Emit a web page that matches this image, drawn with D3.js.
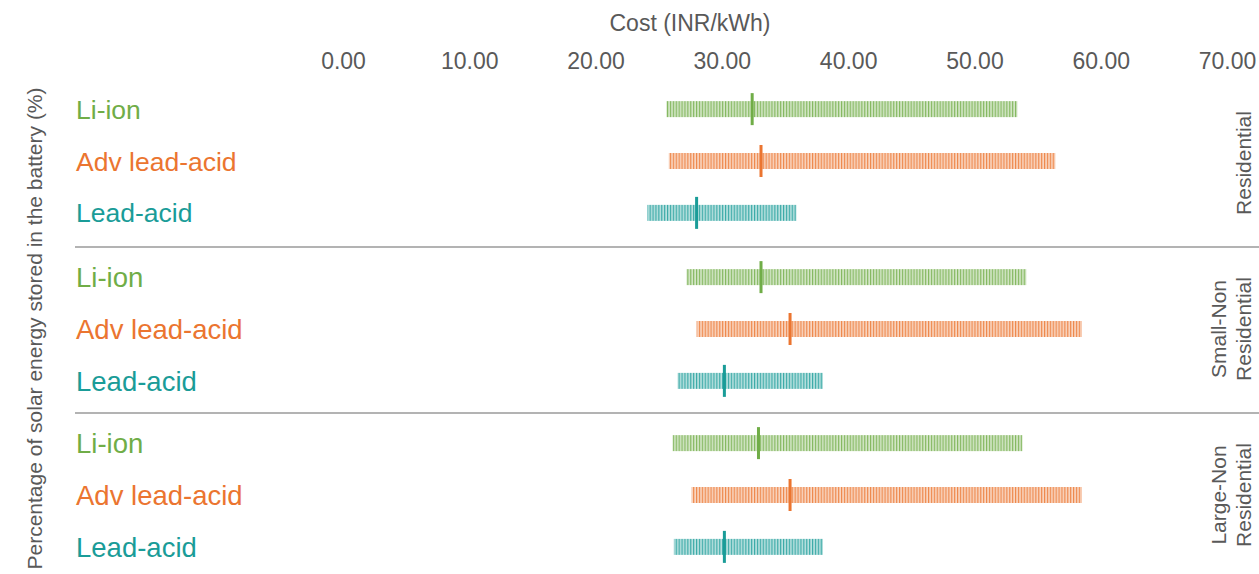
<!DOCTYPE html>
<html>
<head>
<meta charset="utf-8">
<script src="https://cdn.jsdelivr.net/npm/d3@7"></script>
<style>
  html, body { margin: 0; padding: 0; background: #fff; }
  svg { display: block; }
  text { font-family: "Liberation Sans", Arial, sans-serif; }
</style>
</head>
<body>
<svg id="chart" width="1259" height="574"></svg>
<script>
// ---- data ----
const groups = ["Residential", "Small-Non Residential", "Large-Non Residential"];
const groupLabelLines = [["Residential"], ["Small-Non", "Residential"], ["Large-Non", "Residential"]];
const batteries = ["Li-ion", "Adv lead-acid", "Lead-acid"];
const batteryColors = ["#70AD47", "#EB7530", "#1A9C98"];

const liIonMin    = [25.6, 27.2, 26.1];
const liIonMedian = [32.4, 33.1, 32.9];
const liIonMax    = [53.4, 54.1, 53.8];

const advMin      = [25.8, 28.0, 27.6];
const advMedian   = [33.1, 35.4, 35.4];
const advMax      = [56.4, 58.5, 58.5];

const leadMin     = [24.1, 26.5, 26.2];
const leadMedian  = [28.0, 30.2, 30.2];
const leadMax     = [35.9, 38.0, 38.0];

const xTicks = [0, 10, 20, 30, 40, 50, 60, 70];
const xTitle = "Cost (INR/kWh)";
const yTitle = "Percentage of solar energy stored in the battery (%)";

// ---- build rows ----
const mins = [liIonMin, advMin, leadMin];
const meds = [liIonMedian, advMedian, leadMedian];
const maxs = [liIonMax, advMax, leadMax];
const rows = [];
groups.forEach((g, gi) => {
  batteries.forEach((b, bi) => {
    rows.push({ group: g, gi, battery: b, bi, min: mins[bi][gi], median: meds[bi][gi], max: maxs[bi][gi] });
  });
});

// ---- scales ----
const svg = d3.select("#chart");
const x = d3.scaleLinear().domain([0, 70]).range([343, 1227]);
const yGroup = d3.scaleBand().domain(groups).range([80, 578]).padding(0);
const yRow = d3.scalePoint().domain(batteries).range([0, yGroup.bandwidth()]).padding(0.6);
const rowY = d => yGroup(d.group) + yRow(d.battery) - (d.gi === 0 ? 2 : 0);

// ---- patterns ----
const defs = svg.append("defs");
batteryColors.forEach((c, i) => {
  const p = defs.append("pattern")
    .attr("id", "hatch" + i)
    .attr("patternUnits", "userSpaceOnUse")
    .attr("width", 2.9).attr("height", 20);
  p.append("rect").attr("width", 2.9).attr("height", 20).attr("fill", c).attr("fill-opacity", 0.3);
  p.append("rect").attr("x", 0).attr("width", 1.2).attr("height", 20).attr("fill", c).attr("fill-opacity", 0.8);
});

// ---- top axis ----
const axis = d3.axisTop(x).tickValues(xTicks).tickFormat(d3.format(".2f")).tickSize(0).tickPadding(0);
const gAxis = svg.append("g").attr("transform", "translate(0,69)").call(axis);
gAxis.select(".domain").remove();
gAxis.selectAll("text")
  .attr("font-family", "Liberation Sans, Arial, sans-serif")
  .attr("font-size", 23).attr("fill", "#595959").attr("dy", 0);

svg.append("text").attr("x", 690).attr("y", 31).attr("text-anchor", "middle")
  .attr("font-size", 23).attr("fill", "#595959").text(xTitle);

// ---- y title ----
svg.append("text")
  .attr("transform", `translate(42,${(85 + 572) / 2}) rotate(-90)`)
  .attr("text-anchor", "middle").attr("font-size", 21).attr("fill", "#595959")
  .text(yTitle);

// ---- separators ----
svg.selectAll("line.sep").data(groups.slice(1)).join("line")
  .attr("class", "sep")
  .attr("x1", 75).attr("x2", 1259)
  .attr("y1", d => yGroup(d) + 1).attr("y2", d => yGroup(d) + 1)
  .attr("stroke", "#9a9a9a").attr("stroke-width", 1.3);

// ---- row labels ----
svg.selectAll("text.rowlab").data(rows).join("text")
  .attr("class", "rowlab")
  .attr("x", 76).attr("y", rowY).attr("dy", "0.36em")
  .attr("font-size", d => d.gi === 0 ? 26.5 : 27.5)
  .attr("font-weight", d => d.gi === 0 ? 400 : 300)
  .attr("font-family", d => d.gi === 0 ? "Liberation Sans, Arial, sans-serif" : "Roboto, Liberation Sans, sans-serif")
  .attr("fill", d => batteryColors[d.bi])
  .text(d => d.battery);

// ---- range bars ----
svg.selectAll("rect.range").data(rows).join("rect")
  .attr("class", "range")
  .attr("x", d => x(d.min)).attr("width", d => x(d.max) - x(d.min))
  .attr("y", d => rowY(d) - 8).attr("height", 16)
  .attr("fill", d => `url(#hatch${d.bi})`);

// ---- medians ----
svg.selectAll("rect.median").data(rows).join("rect")
  .attr("class", "median")
  .attr("x", d => x(d.median) - 1.5).attr("width", 3)
  .attr("y", d => rowY(d) - 16).attr("height", 32)
  .attr("fill", d => batteryColors[d.bi]);

// ---- group labels ----
groups.forEach((g, gi) => {
  const lines = groupLabelLines[gi];
  const cy = yGroup(g) + yGroup.bandwidth() / 2;
  const t = svg.append("text")
    .attr("transform", `translate(1251,${cy}) rotate(-90)`)
    .attr("text-anchor", "middle").attr("font-size", 21).attr("fill", "#595959");
  lines.forEach((l, li) => {
    t.append("tspan").attr("x", 0).attr("y", (li - (lines.length - 1)) * 25).text(l);
  });
});
</script>
</body>
</html>
